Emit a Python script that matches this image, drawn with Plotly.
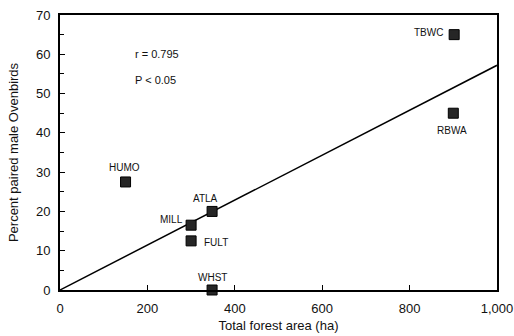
import plotly.graph_objects as go

sites = ["TBWC", "RBWA", "HUMO", "MILL", "FULT", "ATLA", "WHST"]
forest_area = [902, 900, 150, 300, 300, 348, 348]
pct_paired = [65, 45, 27.5, 16.5, 12.5, 20, 0]
# label offsets in pixels (x right, y up)
label_dx = [-26, -1, -1, -20, 25, -7, 0]
label_dy = [2, -17, 14, 6, -2, 13, 13]
fit_x = [0, 1000]
fit_y = [0, 57.2]

FONT = "Liberation Sans, Arial, sans-serif"

fig = go.Figure()
fig.add_trace(go.Scatter(x=fit_x, y=fit_y, mode="lines",
                         line=dict(color="black", width=1.5), showlegend=False,
                         hoverinfo="skip", cliponaxis=False))
fig.add_trace(go.Scatter(
    x=forest_area, y=pct_paired, mode="markers",
    marker=dict(symbol="square", size=10, color="#262626",
                line=dict(color="#000", width=1)),
    showlegend=False, cliponaxis=False))

for s, x, y, dx, dy in zip(sites, forest_area, pct_paired, label_dx, label_dy):
    fig.add_annotation(x=x, y=y, text=s, showarrow=False, xshift=dx, yshift=dy,
                       font=dict(family=FONT, size=10, color="#111"))

fig.add_annotation(x=167, y=60, text="r = 0.795", showarrow=False,
                   xanchor="left", font=dict(family=FONT, size=11, color="#111"))
fig.add_annotation(x=167, y=53.5, text="P < 0.05", showarrow=False,
                   xanchor="left", font=dict(family=FONT, size=11, color="#111"))

fig.update_layout(
    width=514, height=336,
    margin=dict(l=60, r=17, t=15, b=46),
    paper_bgcolor="white", plot_bgcolor="white",
    font=dict(family=FONT, size=13, color="#111"),
    xaxis=dict(range=[0, 1000], tickvals=[0, 200, 400, 600, 800, 1000],
               ticktext=["0", "200", "400", "600", "800", "1,000"],
               showgrid=False, zeroline=False, showline=True, linecolor="black",
               linewidth=2, mirror=True, ticks="inside", ticklen=5,
               tickcolor="black", automargin=False, ticklabelstandoff=5,
               title=dict(text="Total forest area (ha)", font=dict(size=13),
                          standoff=6)),
    yaxis=dict(range=[0, 70], tickvals=[0, 10, 20, 30, 40, 50, 60, 70],
               showgrid=False, zeroline=False, showline=True, linecolor="black",
               linewidth=2, mirror=True, ticks="inside", ticklen=5,
               tickcolor="black", automargin=False, ticklabelstandoff=5,
               minor=dict(tickvals=[5, 15, 25, 35, 45, 55, 65], ticks="inside",
                          ticklen=4, tickcolor="black"),
               title=dict(text="Percent paired male Ovenbirds",
                          font=dict(size=13), standoff=14)),
)

fig.write_html("out.html", config={"displayModeBar": False})
with open("out.html", "r", encoding="utf-8") as f:
    html = f.read()
html = html.replace("<head>", "<head><style>html,body{margin:0;padding:0;overflow:hidden}</style>", 1)
with open("out.html", "w", encoding="utf-8") as f:
    f.write(html)
